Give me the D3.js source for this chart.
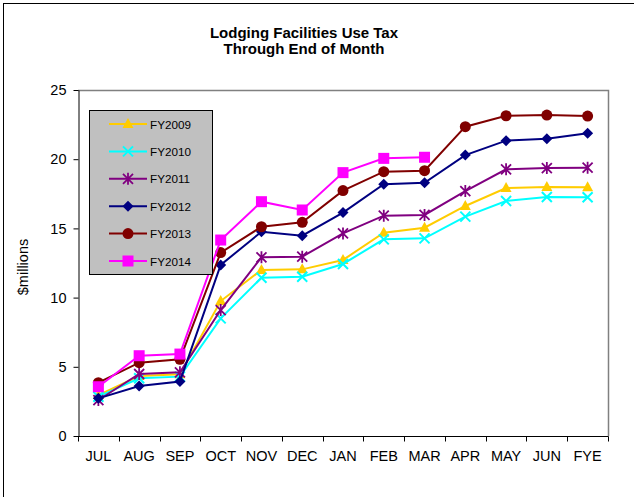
<!DOCTYPE html>
<html>
<head>
<meta charset="utf-8">
<script src="https://cdn.jsdelivr.net/npm/d3@7"></script>
<style>
  html, body { margin: 0; padding: 0; background: #fff; }
  svg { display: block; font-family: "Liberation Sans", Arial, sans-serif; }
</style>
</head>
<body>
<svg id="chart" width="634" height="497"></svg>
<script>
// Months of the fiscal year (cumulative through end of month)
const months = ["JUL","AUG","SEP","OCT","NOV","DEC","JAN","FEB","MAR","APR","MAY","JUN","FYE"];
const seriesNames = ["FY2009","FY2010","FY2011","FY2012","FY2013","FY2014"];
const yTicks = [0, 5, 10, 15, 20, 25];

// Cumulative collections, $ millions
const fy2009 = [2.96, 4.33, 4.46, 9.75, 12.0, 12.04, 12.72, 14.69, 15.05, 16.62, 17.92, 17.99, 17.97];
const fy2010 = [2.84, 4.17, 4.29, 8.5, 11.44, 11.51, 12.43, 14.21, 14.28, 15.85, 16.98, 17.27, 17.25];
const fy2011 = [2.6, 4.48, 4.6, 9.1, 12.91, 12.96, 14.64, 15.92, 15.97, 17.7, 19.27, 19.36, 19.39];
const fy2012 = [2.72, 3.61, 3.93, 12.36, 14.76, 14.47, 16.14, 18.19, 18.3, 20.3, 21.34, 21.48, 21.87];
const fy2013 = [3.85, 5.3, 5.54, 13.25, 15.12, 15.44, 17.73, 19.1, 19.17, 22.35, 23.14, 23.19, 23.12];
const fy2014 = [3.56, 5.8, 5.92, 14.16, 16.93, 16.33, 19.03, 20.06, 20.14];

const seriesValues = [fy2009, fy2010, fy2011, fy2012, fy2013, fy2014];
const colors = ["#FFCC00", "#00FFFF", "#800080", "#000080", "#800000", "#FF00FF"];
const markers = ["triangle", "x", "star", "diamond", "circle", "square"];

const svg = d3.select("#chart");

// outer chart frame
svg.append("rect").attr("x", 3.5).attr("y", 3.5).attr("width", 640).attr("height", 500)
  .attr("fill", "#fff").attr("stroke", "#000").attr("stroke-width", 1);

const plot = { left: 78, right: 608, top: 90, bottom: 436 };

const x = d3.scaleBand().domain(months).range([plot.left, plot.right]);
const y = d3.scaleLinear().domain([0, 25]).range([plot.bottom, plot.top]);

// plot area border (top/right grey)
svg.append("path")
  .attr("d", `M${plot.left},${plot.top + 0.5}H${plot.right + 0.5}V${plot.bottom}`)
  .attr("fill", "none").attr("stroke", "#808080").attr("stroke-width", 1.5);

// title
const title = svg.append("text").attr("text-anchor", "middle")
  .attr("font-size", 15).attr("font-weight", "bold").attr("fill", "#000");
title.append("tspan").attr("x", 304).attr("y", 38).text("Lodging Facilities Use Tax");
title.append("tspan").attr("x", 304).attr("y", 54).text("Through End of Month");

// y axis
const yAxis = svg.append("g").attr("transform", `translate(${plot.left + 0.5},0)`)
  .call(d3.axisLeft(y).tickValues(yTicks).tickSize(5).tickPadding(7).tickSizeOuter(0));
yAxis.select(".domain").attr("stroke", "#000");
yAxis.selectAll("text").attr("font-size", 14.5).attr("fill", "#000")
  .attr("font-family", "Liberation Sans, Arial, sans-serif");

// x axis (ticks on band edges)
const xAxis = svg.append("g").attr("transform", `translate(0,${plot.bottom + 0.5})`);
xAxis.append("line").attr("x1", plot.left).attr("x2", plot.right + 0.5)
  .attr("stroke", "#000");
const edges = months.map(m => x(m)).concat([plot.right]);
xAxis.selectAll("line.tick").data(edges).enter().append("line")
  .attr("class", "tick")
  .attr("x1", d => Math.round(d) + 0.5).attr("x2", d => Math.round(d) + 0.5)
  .attr("y1", 0).attr("y2", 5).attr("stroke", "#000");
xAxis.selectAll("text").data(months).enter().append("text")
  .attr("x", d => x(d) + x.bandwidth() / 2).attr("y", 24)
  .attr("text-anchor", "middle").attr("font-size", 14.5).attr("fill", "#000")
  .text(d => d);

// y axis title
svg.append("text").attr("transform", "translate(28,267) rotate(-90)")
  .attr("text-anchor", "middle").attr("font-size", 14.5).attr("fill", "#000")
  .text("$millions");

// marker drawing
function drawMarker(g, type, color, cx, cy) {
  if (type === "triangle") {
    g.append("path").attr("d", `M${cx},${cy - 6}L${cx + 5.5},${cy + 4}L${cx - 5.5},${cy + 4}Z`)
      .attr("fill", color);
  } else if (type === "x") {
    g.append("path").attr("d", `M${cx - 5},${cy - 5}L${cx + 5},${cy + 5}M${cx - 5},${cy + 5}L${cx + 5},${cy - 5}`)
      .attr("stroke", color).attr("stroke-width", 2).attr("fill", "none");
  } else if (type === "star") {
    g.append("path").attr("d", `M${cx - 5},${cy - 5}L${cx + 5},${cy + 5}M${cx - 5},${cy + 5}L${cx + 5},${cy - 5}M${cx},${cy - 6}L${cx},${cy + 6}`)
      .attr("stroke", color).attr("stroke-width", 1.8).attr("fill", "none");
  } else if (type === "diamond") {
    g.append("path").attr("d", `M${cx},${cy - 5.5}L${cx + 5.5},${cy}L${cx},${cy + 5.5}L${cx - 5.5},${cy}Z`)
      .attr("fill", color);
  } else if (type === "circle") {
    g.append("circle").attr("cx", cx).attr("cy", cy).attr("r", 5.5).attr("fill", color);
  } else if (type === "square") {
    g.append("rect").attr("x", cx - 5.5).attr("y", cy - 5.5).attr("width", 11).attr("height", 11)
      .attr("fill", color);
  }
}

const line = d3.line()
  .x((d, i) => x(months[i]) + x.bandwidth() / 2)
  .y(d => y(d));

seriesValues.forEach((vals, s) => {
  const g = svg.append("g");
  g.append("path").datum(vals).attr("d", line)
    .attr("fill", "none").attr("stroke", colors[s]).attr("stroke-width", 2);
  vals.forEach((v, i) => {
    drawMarker(g, markers[s], colors[s], x(months[i]) + x.bandwidth() / 2, y(v));
  });
});

// legend
const legend = svg.append("g");
legend.append("rect").attr("x", 89.5).attr("y", 110.5).attr("width", 123).attr("height", 164)
  .attr("fill", "#C0C0C0").attr("stroke", "#000").attr("stroke-width", 1);
seriesNames.forEach((name, s) => {
  const ly = 124 + s * 27.4;
  legend.append("line").attr("x1", 109).attr("x2", 147).attr("y1", ly).attr("y2", ly)
    .attr("stroke", colors[s]).attr("stroke-width", 2);
  drawMarker(legend, markers[s], colors[s], 128, ly);
  legend.append("text").attr("x", 150).attr("y", ly + 4.5)
    .attr("font-size", 11.7).attr("fill", "#000").text(name);
});
</script>
</body>
</html>
